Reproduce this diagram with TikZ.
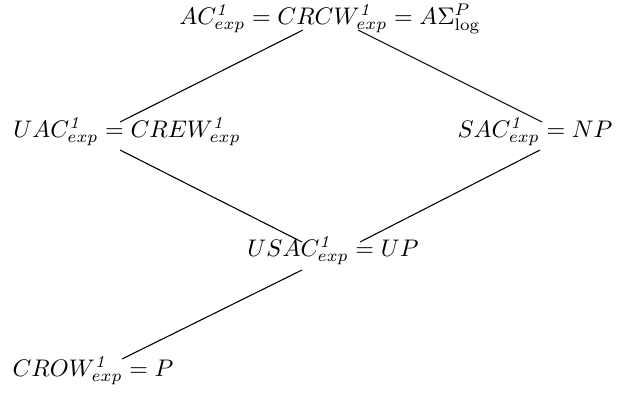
\documentclass[tikz,border=0pt]{standalone}
\begin{document}
\begin{tikzpicture}[
        x=0.4167pt, y=-0.4167pt,
        every node/.style={inner sep=0pt, anchor=base},
        link/.style={draw, line width=0.45pt},
    ]
    \useasboundingbox (0,0) rectangle (633,394);
    % classes
    \node (ac)   at (330,24)  {$AC^{\mathit{1}}_{exp} = CRCW^{\mathit{1}}_{exp} = A\Sigma^P_{\log}$};
    \node (uac)  at (127,137) {$UAC^{\mathit{1}}_{exp} = CREW^{\mathit{1}}_{exp}$};
    \node (sac)  at (535,137) {$SAC^{\mathit{1}}_{exp} = NP$};
    \node (usac) at (333,256) {$USAC^{\mathit{1}}_{exp} = UP$};
    \node (crow) at (93,376)  {$CROW^{\mathit{1}}_{exp} = P$};
    % line ends
    \coordinate (ac-l)   at (303,30);
    \coordinate (ac-r)   at (358,30);
    \coordinate (uac-t)  at (120,122);
    \coordinate (uac-b)  at (120,150);
    \coordinate (sac-t)  at (542,122);
    \coordinate (sac-b)  at (540,150);
    \coordinate (usac-l) at (302,242);
    \coordinate (usac-r) at (360,242);
    \coordinate (usac-b) at (302,270);
    \coordinate (crow-t) at (122,359);
    \draw[link] (ac-l) -- (uac-t);
    \draw[link] (ac-r) -- (sac-t);
    \draw[link] (uac-b) -- (usac-l);
    \draw[link] (sac-b) -- (usac-r);
    \draw[link] (usac-b) -- (crow-t);
\end{tikzpicture}
\end{document}
